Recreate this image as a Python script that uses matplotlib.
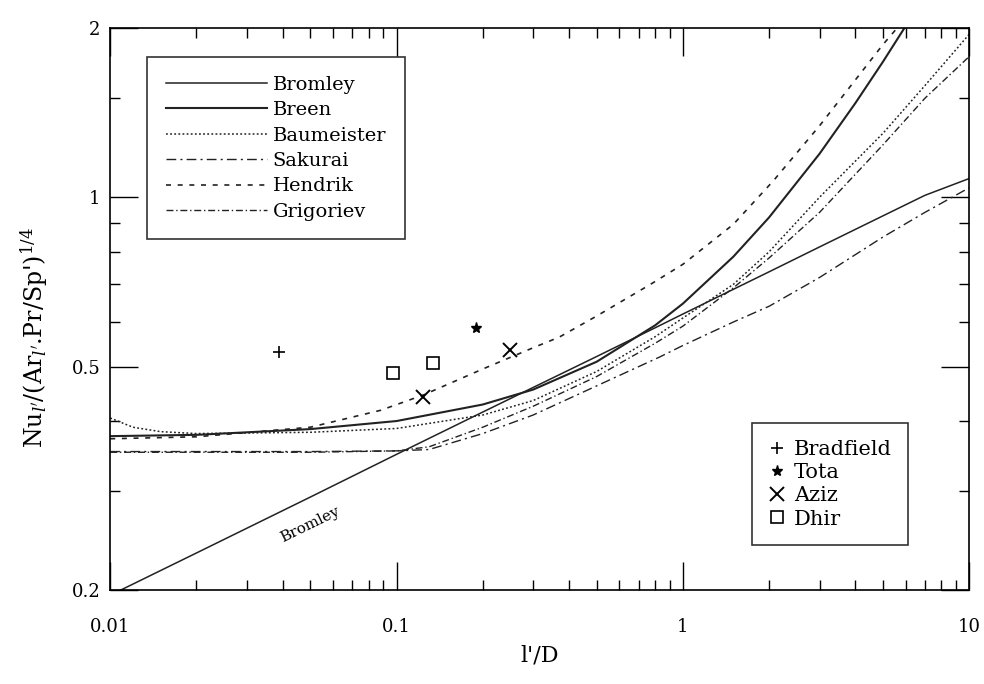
import numpy as np
import matplotlib
matplotlib.use("Agg")
import matplotlib.pyplot as plt

# --- data ------------------------------------------------------------------

# correlations: x = l'/D, y = Nu/(Ar.Pr/Sp')^1/4
bromley_x = [0.01, 0.02, 0.05, 0.1, 0.2, 0.3, 0.5, 0.8, 1, 1.5, 2, 3, 5, 7, 10]
bromley_y = [0.196, 0.233, 0.293, 0.349, 0.415, 0.459, 0.521, 0.586, 0.62,
             0.686, 0.737, 0.816, 0.927, 1.008, 1.08]

breen_x = [0.01, 0.02, 0.05, 0.1, 0.2, 0.3, 0.5, 0.8, 1, 1.5, 2, 3, 4, 5, 6]
breen_y = [0.376, 0.378, 0.387, 0.400, 0.428, 0.455, 0.510, 0.592, 0.647,
           0.784, 0.921, 1.195, 1.47, 1.743, 2.017]

baum_x = [0.01, 0.012, 0.015, 0.02, 0.05, 0.1, 0.2, 0.3, 0.5, 0.8, 1, 1.5, 2,
          3, 5, 7, 10]
baum_y = [0.405, 0.39, 0.383, 0.38, 0.382, 0.388, 0.41, 0.435, 0.49, 0.565,
          0.61, 0.70, 0.80, 1.0, 1.30, 1.58, 1.95]

sakurai_x = [0.01, 0.05, 0.1, 0.13, 0.2, 0.3, 0.5, 0.83, 1, 1.5, 2, 3, 5, 7, 10]
sakurai_y = [0.353, 0.353, 0.354, 0.356, 0.38, 0.41, 0.462, 0.52, 0.545,
             0.60, 0.64, 0.72, 0.85, 0.94, 1.04]

hendrik_x = [0.01, 0.02, 0.05, 0.088, 0.124, 0.2, 0.3, 0.37, 0.5, 0.77, 1,
             1.5, 2.07, 3, 5, 5.6]
hendrik_y = [0.372, 0.375, 0.39, 0.418, 0.445, 0.495, 0.54, 0.564, 0.615,
             0.70, 0.76, 0.895, 1.07, 1.34, 1.87, 2.0]

grig_x = [0.01, 0.05, 0.1, 0.13, 0.2, 0.3, 0.5, 0.8, 1, 1.5, 2, 3, 5, 7, 10]
grig_y = [0.352, 0.352, 0.354, 0.36, 0.39, 0.425, 0.48, 0.55, 0.59, 0.69,
          0.78, 0.94, 1.24, 1.50, 1.78]

# experimental points
bradfield_x, bradfield_y = [0.039], [0.53]
tota_x, tota_y = [0.19], [0.585]
aziz_x, aziz_y = [0.124, 0.249], [0.441, 0.535]
dhir_x, dhir_y = [0.097, 0.134], [0.486, 0.507]

# --------------------------------------------------------------------------

plt.rcParams["font.family"] = ["DejaVu Serif"]
plt.rcParams["font.size"] = 14
plt.rcParams["mathtext.fontset"] = "dejavuserif"

fig = plt.figure(figsize=(9.84, 6.84), dpi=100)
ax = fig.add_axes([0.112, 0.137, 0.873, 0.822])

lc = "#222222"
l1, = ax.plot(bromley_x, bromley_y, color=lc, lw=1.1, ls="-", label="Bromley")
l2, = ax.plot(breen_x, breen_y, color=lc, lw=1.5, ls="-", label="Breen")
l3, = ax.plot(baum_x, baum_y, color=lc, lw=1.1, ls=(0, (1.2, 1.5)),
              label="Baumeister")
l4, = ax.plot(sakurai_x, sakurai_y, color=lc, lw=1.0, ls=(0, (7, 3, 1.5, 3)),
              label="Sakurai")
l5, = ax.plot(hendrik_x, hendrik_y, color=lc, lw=1.2, ls=(0, (3, 4)),
              label="Hendrik")
l6, = ax.plot(grig_x, grig_y, color=lc, lw=1.0, ls=(0, (5, 2, 1, 2)),
              label="Grigoriev")

m1, = ax.plot(bradfield_x, bradfield_y, "+", color="k", ms=9, mew=1.2,
              ls="none", label="Bradfield")
m2, = ax.plot(tota_x, tota_y, "*", color="k", ms=8, ls="none", label="Tota")
m3, = ax.plot(aziz_x, aziz_y, "x", color="k", ms=10, mew=1.4, ls="none",
              label="Aziz")
m4, = ax.plot(dhir_x, dhir_y, "s", mfc="none", mec="k", ms=9, mew=1.2,
              ls="none", label="Dhir")

ax.set_xscale("log")
ax.set_yscale("log")
ax.set_xlim(0.01, 10)
ax.set_ylim(0.2, 2)

ax.set_xticks([0.01, 0.1, 1, 10])
ax.set_xticklabels(["0.01", "0.1", "1", "10"])
ax.set_yticks([0.2, 0.5, 1, 2])
ax.set_yticklabels(["0.2", "0.5", "1", "2"])
ax.yaxis.set_minor_locator(matplotlib.ticker.FixedLocator([0.3, 0.4, 0.6, 0.7, 0.8, 0.9, 1.5]))
ax.yaxis.set_minor_formatter(matplotlib.ticker.NullFormatter())
ax.tick_params(which="both", direction="in", top=True, right=True,
               labelsize=13)
ax.tick_params(which="major", length=20, width=1)
ax.tick_params(which="minor", length=7, width=1)
ax.tick_params(axis="x", which="major", pad=20)
ax.tick_params(axis="y", which="major", pad=7)
for s in ax.spines.values():
    s.set_linewidth(1.2)

ax.set_xlabel("l'/D", fontsize=16, labelpad=6)
ax.set_ylabel("Nu$_{l'}$/(Ar$_{l'}$.Pr/Sp')$^{1/4}$", fontsize=17,
              va="center")
ax.yaxis.set_label_coords(-0.088, 0.45)

ax.text(0.05, 0.262, "Bromley", rotation=26, fontsize=11, ha="center",
        va="center")

leg1 = ax.legend(handles=[l1, l2, l3, l4, l5, l6], loc="upper left",
                 bbox_to_anchor=(0.043, 0.948), borderaxespad=0,
                 frameon=True, fancybox=False, edgecolor="k", fontsize=14,
                 handlelength=5.2, labelspacing=0.38, borderpad=0.95,
                 handletextpad=0.3)
leg1.get_frame().set_linewidth(1.2)
ax.add_artist(leg1)

leg2 = ax.legend(handles=[m1, m2, m3, m4], loc="lower right",
                 bbox_to_anchor=(0.929, 0.08), borderaxespad=0,
                 frameon=True, fancybox=False, edgecolor="k", fontsize=15,
                 handlelength=0.8, labelspacing=0.2, borderpad=0.8,
                 handletextpad=0.4)
leg2.get_frame().set_linewidth(1.2)

plt.savefig("out.png", dpi=100)
